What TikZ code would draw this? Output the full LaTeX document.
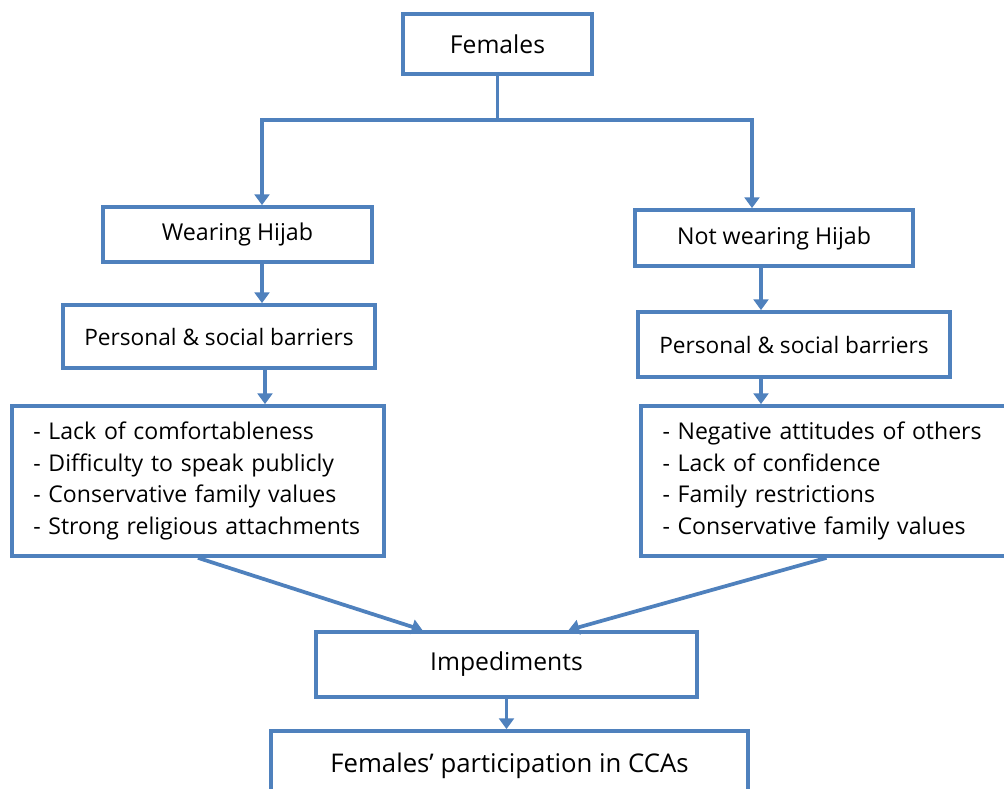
\documentclass[tikz,border=0pt]{standalone}
\usepackage{fontspec}
\setmainfont{Open Sans}
\usetikzlibrary{arrows.meta,calc}

\definecolor{boxblue}{RGB}{79,129,189}

\tikzset{
    box/.style={draw=boxblue, line width=2.8pt, inner sep=0pt, font=\fontsize{18.5}{24}\selectfont},
    midbox/.style={box, font=\fontsize{17.4}{24}\selectfont},
    barbox/.style={box, font=\fontsize{17}{24}\selectfont},
    listbox/.style={box, align=left, inner xsep=16pt, font=\fontsize{17.3}{23.8}\selectfont},
    link/.style={draw=boxblue, line width=2.8pt},
    arr/.style={link, -{Triangle[width=11pt,length=8pt]}},
}

\begin{document}
\begin{tikzpicture}[x=0.75pt,y=-0.75pt]

    \clip (0,0) rectangle (1004,789);
    \fill[white] (0,0) rectangle (1004,789);

    % top
    \node[box, minimum width=141.75pt, minimum height=45pt] (fem) at (497.5,44) {Females};
    \coordinate (split) at (497.5,120);

    % wearing / not wearing
    \node[midbox, minimum width=201.75pt, minimum height=41.25pt] (wear) at (237.5,234.5) {Wearing Hijab};
    \node[midbox, minimum width=208.5pt, minimum height=42pt] (nowear) at (774,238) {Not wearing Hijab};

    \draw[link] (fem.south) -- (split);
    \draw[arr] (split) -| ($(wear.north)+(24.5,0)$);
    \draw[arr] (split) -| ($(nowear.north)+(-22,0)$);

    %%%%%%%%%%%%%%%%%%%%%%%%%%%%%%%%%%%%%%%%%%%%%%%%%%%%%%

    % barriers
    \node[barbox, minimum width=234pt, minimum height=47.25pt] (barl) at (219,336.5) {Personal \& social barriers};
    \node[barbox, minimum width=234pt, minimum height=48.75pt] (barr) at (794,344.5) {Personal \& social barriers};

    \coordinate (wl) at ($(wear.south)+(24.5,0)$);
    \draw[arr] (wl) -- (wl |- barl.north);
    \coordinate (wr) at ($(nowear.south)+(-13,0)$);
    \draw[arr] (wr) -- (wr |- barr.north);

    %%%%%%%%%%%%%%%%%%%%%%%%%%%%%%%%%%%%%%%%%%%%%%%%%%%%%%

    % lists
    \node[listbox, text width=247pt, minimum height=112.5pt] (lstl) at (198,481)
        {- Lack of comfortableness\\- Difficulty to speak publicly\\- Conservative family values\\- Strong religious attachments};
    \node[listbox, text width=246pt, minimum height=112.5pt] (lstr) at (826.5,481)
        {- Negative attitudes of others\\- Lack of confidence\\- Family restrictions\\- Conservative family values};

    \coordinate (bl) at ($(barl.south)+(46,0)$);
    \draw[arr] (bl) -- (bl |- lstl.north);
    \coordinate (br) at ($(barr.south)+(-33,0)$);
    \draw[arr] (br) -- (br |- lstr.north);

    %%%%%%%%%%%%%%%%%%%%%%%%%%%%%%%%%%%%%%%%%%%%%%%%%%%%%%

    % impediments
    \node[box, minimum width=285.75pt, minimum height=48.75pt] (imp) at (506.5,664.5) {Impediments};
    \draw[arr] (lstl.south) -- ($(imp.north)+(-84,0)$);
    \draw[arr] (lstr.south) -- ($(imp.north)+(62,0)$);

    % participation
    \node[box, font=\fontsize{19.3}{24}\selectfont, minimum width=357.75pt, minimum height=52.5pt] (part) at (509.5,766) {Females’ participation in CCAs};
    \draw[arr] (imp.south) -- (imp.south |- part.north);

\end{tikzpicture}
\end{document}
